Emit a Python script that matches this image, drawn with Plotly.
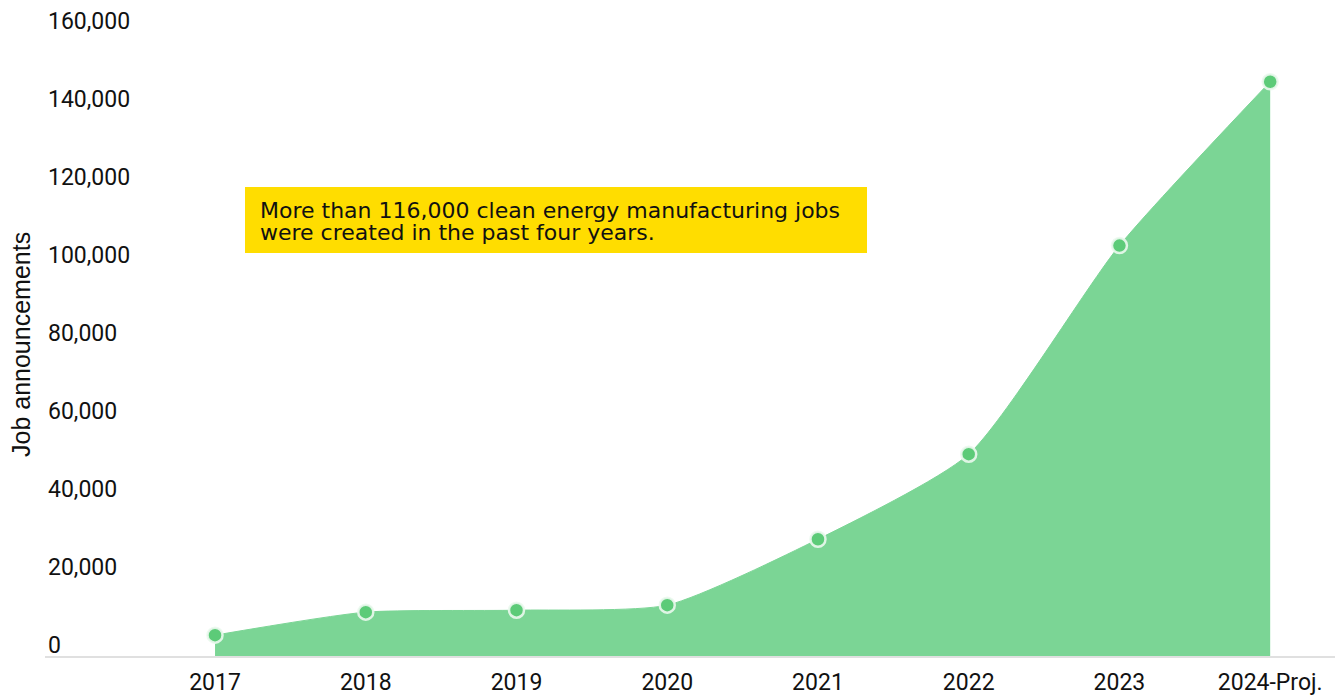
import plotly.graph_objects as go

categories = ["2017", "2018", "2019", "2020", "2021", "2022", "2023", "2024-Proj."]
jobs = [5600, 11500, 12000, 13300, 30200, 52000, 105500, 147500]
y_ticks = [0, 20000, 40000, 60000, 80000, 100000, 120000, 140000, 160000]
y_tick_text = ["0", "20,000", "40,000", "60,000", "80,000", "100,000", "120,000", "140,000", "160,000"]

W, H = 1335, 696
ML, MR = 45, 0
PW = W - ML - MR
Y0_PX, YTOP_PX = 657, 33          # pixel rows of 0 and 160,000
Y_MAX = 160000
per_px = Y_MAX / (Y0_PX - YTOP_PX)
y_range = [-(H - Y0_PX) * per_px, Y_MAX + YTOP_PX * per_px]

def px_x(p):
    return (p - ML) / PW

def px_y(p):
    return (H - p) / H

fig = go.Figure()
fig.add_trace(go.Scatter(
    x=list(range(len(categories))), y=jobs,
    mode="lines+markers",
    line=dict(shape="spline", smoothing=0.6, color="#7bd595", width=1),
    fill="tozeroy", fillcolor="#7bd595",
    marker=dict(size=15, color="#5ccb78", line=dict(color="rgba(235,248,238,0.9)", width=2.5)),
    hoverinfo="skip", showlegend=False,
))

font_main = "Roboto"

fig.update_layout(
    width=W, height=H,
    margin=dict(l=ML, r=MR, t=0, b=0),
    paper_bgcolor="white", plot_bgcolor="white",
    xaxis=dict(
        tickmode="array", tickvals=list(range(len(categories))), ticktext=categories,
        range=[-1.128, 7.43], showgrid=False, zeroline=False, automargin=False,
        anchor="free", position=px_y(Y0_PX),
        showline=True, linecolor="#e0e0e0", linewidth=2,
        tickfont=dict(family=font_main, size=23, color="#111"),
        ticks="", ticklabelstandoff=4,
    ),
    yaxis=dict(
        tickmode="array", tickvals=y_ticks, ticktext=y_tick_text,
        range=y_range, showgrid=False, zeroline=False, showline=False, automargin=False,
        ticklabelposition="inside", ticklabelshift=-12, ticklabelstandoff=0,
        tickfont=dict(family=font_main, size=23, color="#111"),
        ticks="",
    ),
    shapes=[dict(
        type="rect", xref="paper", yref="paper",
        x0=px_x(245), x1=px_x(867), y0=px_y(253), y1=px_y(187),
        fillcolor="#ffdd00", line=dict(width=0), layer="above",
    )],
    annotations=[
        dict(text="Job announcements", textangle=-90, xref="paper", yref="paper",
             x=px_x(21), y=px_y(345), xanchor="center", yanchor="middle",
             showarrow=False, font=dict(family="Liberation Sans", size=25, color="#111")),
        dict(text="More than 116,000 clean energy manufacturing jobs", xref="paper", yref="paper",
             x=px_x(258), y=px_y(210), xanchor="left", yanchor="middle", showarrow=False,
             font=dict(family="DejaVu Sans", size=22, color="#111")),
        dict(text="were created in the past four years.", xref="paper", yref="paper",
             x=px_x(258), y=px_y(232), xanchor="left", yanchor="middle", showarrow=False,
             font=dict(family="DejaVu Sans", size=22, color="#111")),
    ],
)

fig.write_html("out.html")
